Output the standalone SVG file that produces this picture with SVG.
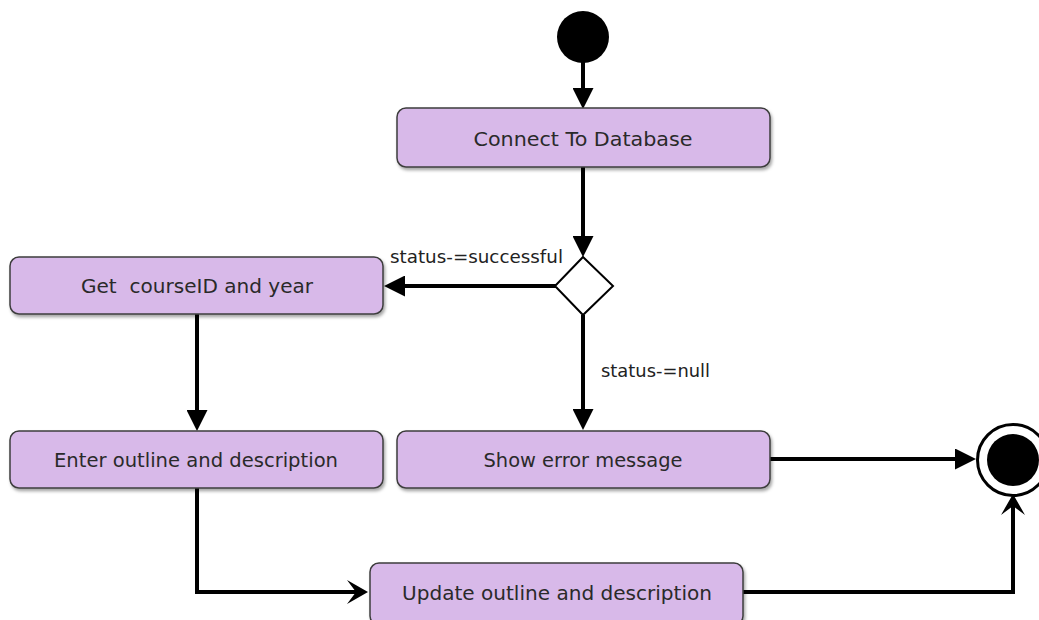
<svg xmlns="http://www.w3.org/2000/svg" width="1039" height="620" viewBox="0 0 1039 620">
  <style>
    .box { fill: #D8B9E9; stroke: #3d3d3d; stroke-width: 1.5; filter: url(#shadow); }
    .lbl { font-family: "DejaVu Sans", "Liberation Sans", sans-serif; font-size: 20px; fill: #2a2a2a; text-anchor: middle; }
    .guard { font-family: "DejaVu Sans", "Liberation Sans", sans-serif; font-size: 17.5px; fill: #222; }
    .edge { fill: none; stroke: #000; stroke-width: 4; }
  </style>
  <defs>
    <filter id="shadow" x="-10%" y="-20%" width="120%" height="150%">
      <feDropShadow dx="1.5" dy="2.5" stdDeviation="1.5" flood-color="#000" flood-opacity="0.35"/>
    </filter>
    <marker id="tri" viewBox="0 -10.5 21 21" refX="0" refY="0" markerWidth="21" markerHeight="21" markerUnits="userSpaceOnUse" orient="auto">
      <path d="M0,-10.5 L21,0 L0,10.5 z" fill="#000"/>
    </marker>
    <marker id="stealth" viewBox="0 -12 21 24" refX="9" refY="0" markerWidth="21" markerHeight="24" markerUnits="userSpaceOnUse" orient="auto">
      <path d="M0,-12 L21,0 L0,12 L9,0 z" fill="#000"/>
    </marker>
  </defs>

  <g id="connectors">
    <line class="edge" x1="583" y1="60" x2="583" y2="88" marker-end="url(#tri)"/>
    <line class="edge" x1="583" y1="167" x2="583" y2="236" marker-end="url(#tri)"/>
    <line class="edge" x1="556" y1="286" x2="405" y2="286" marker-end="url(#tri)"/>
    <line class="edge" x1="197" y1="314" x2="197" y2="410" marker-end="url(#tri)"/>
    <line class="edge" x1="583" y1="315" x2="583" y2="409" marker-end="url(#tri)"/>
    <line class="edge" x1="770" y1="459" x2="955" y2="459" marker-end="url(#tri)"/>
    <path class="edge" d="M197,488 V592 H356" marker-end="url(#stealth)"/>
    <path class="edge" d="M743,592 H1013 V506" marker-end="url(#stealth)"/>
    <text class="guard" x="390" y="263" textLength="173" lengthAdjust="spacingAndGlyphs">status-=successful</text>
    <text class="guard" x="601" y="377" textLength="109" lengthAdjust="spacingAndGlyphs">status-=null</text>
  </g>

  <g id="start">
    <circle cx="583" cy="37" r="26" fill="#000"/>
  </g>

  <g id="connect">
    <rect class="box" x="397" y="108" width="373" height="59" rx="9"/>
    <text class="lbl" x="583" y="146" textLength="219" lengthAdjust="spacingAndGlyphs">Connect To Database</text>
  </g>

  <g id="decision">
    <polygon points="583,257 613,286 583,315 555,286" fill="#fff" stroke="#000" stroke-width="2"/>
  </g>

  <g id="get">
    <rect class="box" x="10" y="257" width="373" height="57" rx="9"/>
    <text class="lbl" x="197" y="293" textLength="232" lengthAdjust="spacingAndGlyphs" xml:space="preserve">Get  courseID and year</text>
  </g>

  <g id="enter">
    <rect class="box" x="10" y="431" width="373" height="57" rx="9"/>
    <text class="lbl" x="196" y="467" textLength="284" lengthAdjust="spacingAndGlyphs">Enter outline and description</text>
  </g>

  <g id="error">
    <rect class="box" x="397" y="431" width="373" height="57" rx="9"/>
    <text class="lbl" x="583" y="467" textLength="199" lengthAdjust="spacingAndGlyphs">Show error message</text>
  </g>

  <g id="update">
    <rect class="box" x="370" y="563" width="373" height="62" rx="9"/>
    <text class="lbl" x="557" y="600" textLength="310" lengthAdjust="spacingAndGlyphs">Update outline and description</text>
  </g>

  <g id="final">
    <circle cx="1013" cy="460" r="35.5" fill="#fff" stroke="#000" stroke-width="3"/>
    <circle cx="1013" cy="460" r="26" fill="#000"/>
  </g>
</svg>
